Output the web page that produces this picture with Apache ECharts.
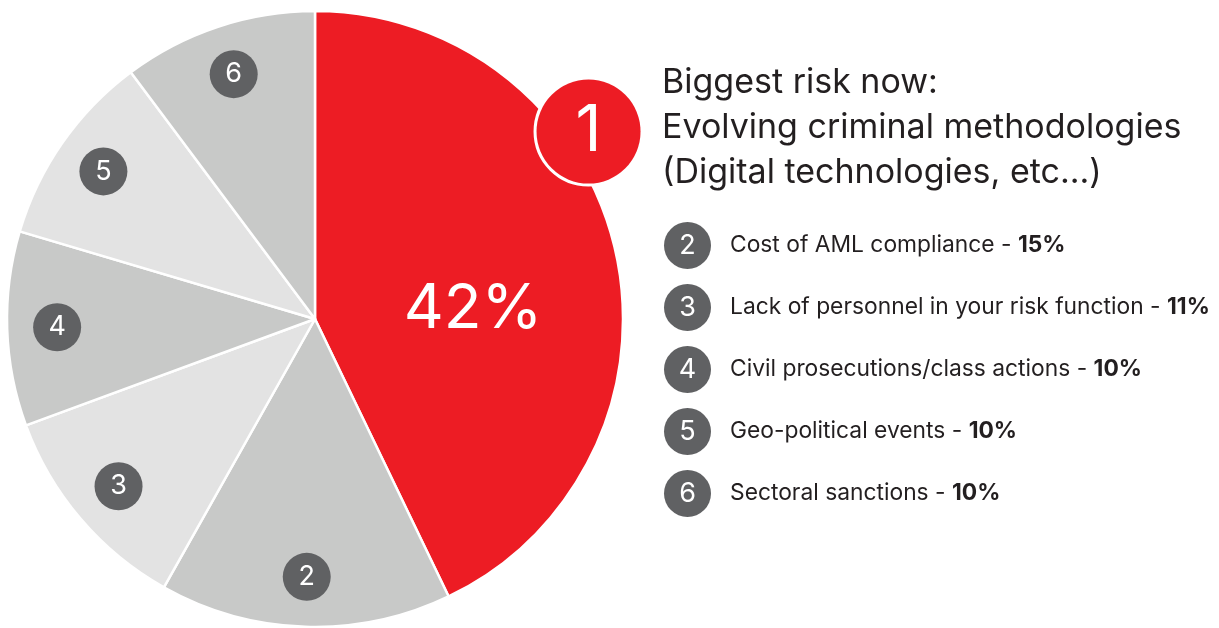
<!DOCTYPE html>
<html>
<head>
<meta charset="utf-8">
<script src="https://cdn.jsdelivr.net/npm/echarts@6/dist/echarts.min.js"></script>
<style>
  html, body { margin: 0; padding: 0; background: #ffffff; }
  #chart { width: 1219px; height: 628px; }
</style>
</head>
<body>
<div id="chart"></div>
<script>
// ---- data ----
const categories = [
  'Evolving criminal methodologies (Digital technologies, etc...)',
  'Cost of AML compliance',
  'Lack of personnel in your risk function',
  'Civil prosecutions/class actions',
  'Geo-political events',
  'Sectoral sanctions'
];
const values = [42, 15, 11, 10, 10, 10];
const rankLabels = ['1', '2', '3', '4', '5', '6'];
const titleLines = ['Biggest risk now:', 'Evolving criminal methodologies', '(Digital technologies, etc...)'];

// ---- styles ----
const sliceColors = ['#ed1c24', '#c8c9c8', '#e3e3e3', '#c8c9c8', '#e3e3e3', '#c8c9c8'];
const FONT = 'Inter, "Open Sans", sans-serif';
const TEXT = '#231f20';
const BADGE = '#606163';

const chart = echarts.init(document.getElementById('chart'), null, { renderer: 'canvas' });

const mainData = categories.map((name, i) => ({
  name: name,
  value: values[i],
  itemStyle: { color: sliceColors[i] },
  label: { show: i === 0 }
}));

const badgeData = categories.map((name, i) => ({
  name: name,
  value: values[i],
  label: i === 0 ? {
    formatter: () => '{big|' + rankLabels[i] + '}'
  } : {
    formatter: () => '{n|' + rankLabels[i] + '}'
  }
}));

const option = {
  animation: false,
  title: {
    text: titleLines.join('\n'),
    left: 662,
    top: 60,
    padding: 0,
    textStyle: {
      fontFamily: FONT,
      fontSize: 34,
      lineHeight: 45,
      fontWeight: 'normal',
      color: TEXT
    }
  },
  legend: {
    orient: 'vertical',
    left: 658,
    top: 222,
    padding: 0,
    itemGap: 15,
    itemWidth: 0,
    itemHeight: 0,
    selectedMode: false,
    data: categories.slice(1),
    formatter: function (name) {
      const i = categories.indexOf(name);
      return '{n|' + rankLabels[i] + '}{t|' + name + ' - }{p|' + values[i] + '%}';
    },
    textStyle: {
      fontFamily: FONT,
      rich: {
        n: {
          width: 47, height: 47, lineHeight: 47, borderRadius: 24,
          backgroundColor: BADGE, color: '#ffffff', align: 'center',
          fontSize: 27, fontFamily: FONT
        },
        t: { fontSize: 22.8, color: TEXT, padding: [0, 0, 0, 19], fontFamily: FONT },
        p: { fontSize: 22.8, color: TEXT, fontWeight: 'bold', fontFamily: FONT }
      }
    }
  },
  series: [
    {
      type: 'pie',
      center: [315, 319],
      radius: [0, 308],
      startAngle: 90,
      clockwise: true,
      silent: true,
      emphasis: { disabled: true },
      itemStyle: { borderColor: '#ffffff', borderWidth: 2.5 },
      label: {
        position: 'inside',
        formatter: (p) => p.value + '%',
        color: '#ffffff',
        fontSize: 62,
        fontFamily: FONT
      },
      labelLine: { show: false },
      labelLayout: function (p) {
        if (p.dataIndex === 0) return { dx: 5, dy: 25 };
      },
      data: mainData
    },
    {
      type: 'pie',
      center: [315, 319],
      radius: [202, 308],
      startAngle: 90,
      clockwise: true,
      silent: true,
      emphasis: { disabled: true },
      itemStyle: { color: 'rgba(0,0,0,0)', borderWidth: 0 },
      label: {
        show: true,
        position: 'inside',
        fontFamily: FONT,
        rich: {
          n: {
            width: 48, height: 48, lineHeight: 48, borderRadius: 24,
            backgroundColor: BADGE, color: '#ffffff', align: 'center',
            fontSize: 27, fontFamily: FONT
          },
          big: {
            width: 104, height: 104, lineHeight: 104, borderRadius: 55,
            backgroundColor: '#ed1c24', borderColor: '#ffffff', borderWidth: 3,
            color: '#ffffff', align: 'center', fontSize: 64, fontFamily: FONT
          }
        }
      },
      labelLine: { show: false },
      labelLayout: function (p) {
        if (p.dataIndex === 0) return { dx: 22, dy: -130 };
      },
      data: badgeData
    }
  ]
};

chart.setOption(option);
</script>
</body>
</html>
